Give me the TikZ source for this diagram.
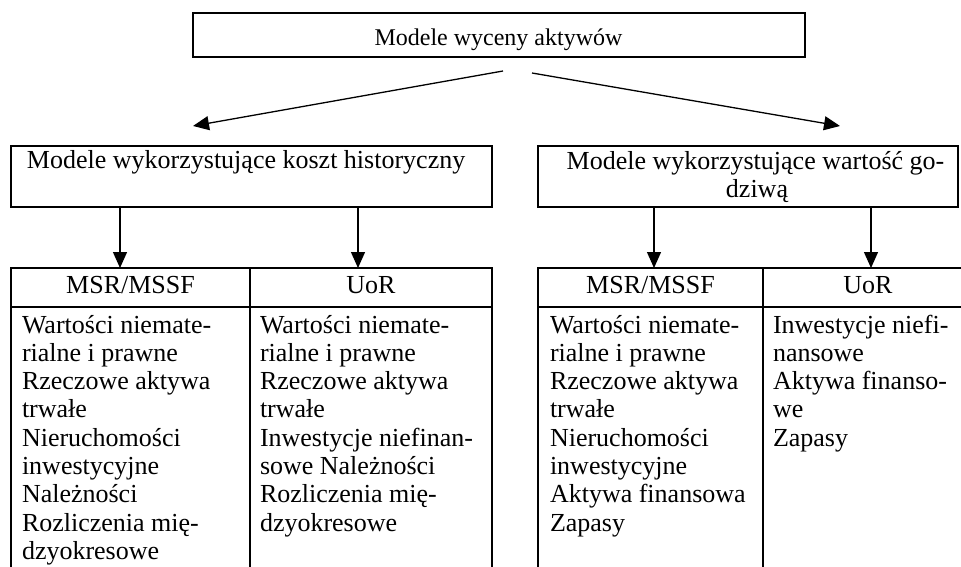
\documentclass[tikz,border=0pt]{standalone}
\usepackage{fontspec}
\setmainfont{Liberation Serif}
\usetikzlibrary{arrows.meta}
\newcommand{\cellrows}[1]{\begin{tabular}[t]{@{}l@{}}#1\end{tabular}}
\begin{document}
\begin{tikzpicture}[x=1pt,y=1pt,
  boxnode/.style={draw, line width=1.3pt, rectangle, inner sep=0pt, outer sep=0pt, anchor=north west},
  txt/.style={inner sep=0pt, outer sep=0pt, font=\fontsize{26}{28.3}\selectfont},
  toptxt/.style={inner sep=0pt, outer sep=0pt, font=\fontsize{24}{26}\selectfont},
  arr/.style={line width=1.3pt, -{Triangle[length=16pt,width=14pt]}}]
\path[use as bounding box, clip] (0,0) rectangle (961,-567);
\fill[white] (0,0) rectangle (961,-567);

% boxes
\node[boxnode, minimum width=612pt, minimum height=44pt] (top) at (193,-13) {};
\node[boxnode, minimum width=481pt, minimum height=61pt] (hist) at (11,-146) {};
\node[boxnode, minimum width=420pt, minimum height=61pt] (fair) at (538,-146) {};

% left table
\node[boxnode, minimum width=239pt, minimum height=39pt] (L1h) at (11,-268) {};
\node[boxnode, minimum width=242pt, minimum height=39pt] (L2h) at (250,-268) {};
\node[boxnode, minimum width=239pt, minimum height=320pt] (L1b) at (11,-307) {};
\node[boxnode, minimum width=242pt, minimum height=320pt] (L2b) at (250,-307) {};
% right table
\node[boxnode, minimum width=225pt, minimum height=39pt] (R1h) at (538,-268) {};
\node[boxnode, minimum width=212pt, minimum height=39pt] (R2h) at (763,-268) {};
\node[boxnode, minimum width=225pt, minimum height=320pt] (R1b) at (538,-307) {};
\node[boxnode, minimum width=212pt, minimum height=320pt] (R2b) at (763,-307) {};

% texts
\node[toptxt, anchor=base] (ttop) at (498.5,-46) {Modele wyceny aktywów};
\node[txt, anchor=base west] (thist) at (27,-168) {Modele wykorzystujące koszt historyczny};
\node[txt, anchor=base] (tfair1) at (755.5,-169) {Modele wykorzystujące wartość go-};
\node[txt, anchor=base] (tfair2) at (757,-197) {dziwą};

\node[txt, anchor=base] (hL1) at (130.5,-293) {MSR/MSSF};
\node[txt, anchor=base] (hL2) at (371,-293) {UoR};
\node[txt, anchor=base] (hR1) at (650.5,-293) {MSR/MSSF};
\node[txt, anchor=base] (hR2) at (868,-293) {UoR};

\node[txt, anchor=base west] (bL1) at (22,-333) {\cellrows{Wartości niemate-\\ rialne i prawne\\ Rzeczowe aktywa\\ trwałe\\ Nieruchomości\\ inwestycyjne\\ Należności\\ Rozliczenia mię-\\ dzyokresowe}};
\node[txt, anchor=base west] (bL2) at (260,-333) {\cellrows{Wartości niemate-\\ rialne i prawne\\ Rzeczowe aktywa\\ trwałe\\ Inwestycje niefinan-\\ sowe Należności\\ Rozliczenia mię-\\ dzyokresowe}};
\node[txt, anchor=base west] (bR1) at (550,-333) {\cellrows{Wartości niemate-\\ rialne i prawne\\ Rzeczowe aktywa\\ trwałe\\ Nieruchomości\\ inwestycyjne\\ Aktywa finansowa\\ Zapasy}};
\node[txt, anchor=base west] (bR2) at (773,-333) {\cellrows{Inwestycje niefi-\\ nansowe\\ Aktywa finanso-\\ we\\ Zapasy}};

% connectors
\coordinate (a1s) at (503,-71);
\coordinate (a1e) at (193,-126);
\coordinate (a2s) at (532,-73);
\coordinate (a2e) at (840,-126);
\draw[arr] (a1s) -- (a1e);
\draw[arr] (a2s) -- (a2e);
\draw[arr] ([xshift=109pt]hist.south west) -- ([xshift=109pt]L1h.north west);
\draw[arr] ([xshift=347pt]hist.south west) -- ([xshift=108pt]L2h.north west);
\draw[arr] ([xshift=116pt]fair.south west) -- ([xshift=116pt]R1h.north west);
\draw[arr] ([xshift=333pt]fair.south west) -- ([xshift=108pt]R2h.north west);
\end{tikzpicture}
\end{document}
